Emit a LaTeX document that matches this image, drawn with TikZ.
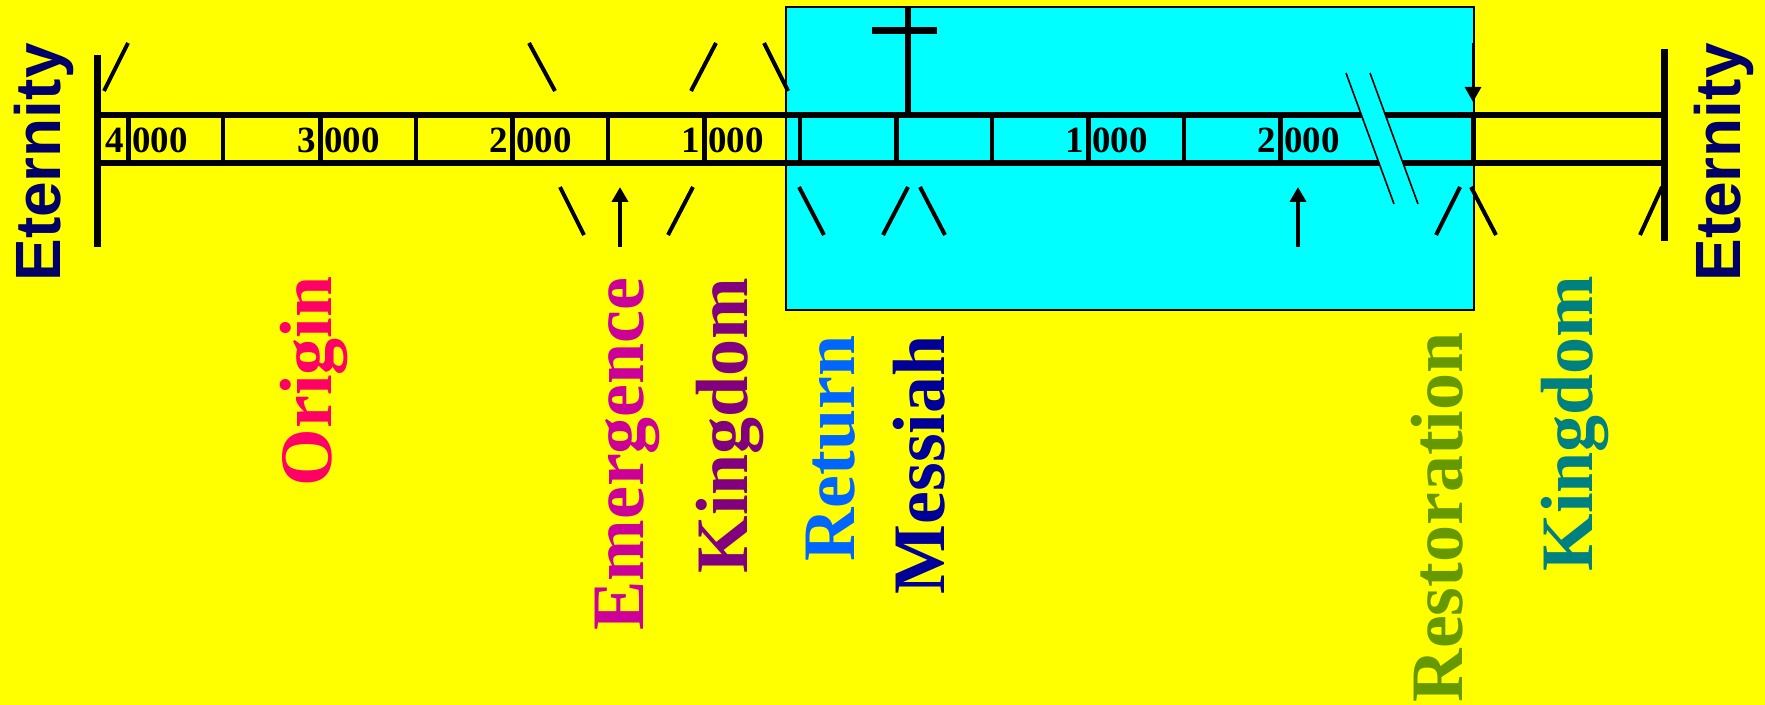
\documentclass[tikz,border=0pt]{standalone}
\usepackage{fontspec}
\setmainfont{Liberation Serif}
\newfontfamily\eternityfont{Liberation Sans}
\usetikzlibrary{arrows.meta}

\definecolor{bgyellow}{HTML}{FFFF00}
\definecolor{boxcyan}{HTML}{00FFFF}
\definecolor{eternityblue}{HTML}{000066}
\definecolor{origincol}{HTML}{FF0066}
\definecolor{emergecol}{HTML}{CC0099}
\definecolor{kingdomcol}{HTML}{800080}
\definecolor{returncol}{HTML}{0066FF}
\definecolor{messiahcol}{HTML}{000099}
\definecolor{restorecol}{HTML}{669900}
\definecolor{kingdomtwocol}{HTML}{008080}

\tikzset{
  era/.style={rotate=90,anchor=base east,inner sep=0pt,
    font=\fontsize{37}{37}\selectfont\bfseries},
  eternity/.style={rotate=90,anchor=base east,inner sep=0pt,text=eternityblue,
    font=\fontsize{32}{32}\selectfont\eternityfont\bfseries},
  year/.style={inner sep=0pt,font=\fontsize{18.5}{18.5}\selectfont\bfseries},
  tick/.style={line width=2pt},
}

\begin{document}
\begin{tikzpicture}[x=0.5pt,y=-0.5pt,>={Stealth[inset=0pt,length=7.5pt,width=8pt]}]
  \fill[bgyellow] (0,0) rectangle (1765,705);
  \useasboundingbox (0,0) rectangle (1765,705);
  % cyan period box
  \draw[fill=boxcyan,line width=0.8pt] (786,7) rectangle (1474,310);
  % rails and end bars
  \draw[line width=3pt] (97,115) -- (1664,115) (97,163) -- (1664,163);
  \draw[line width=3.5pt] (97,55) -- (97,247) (1664,49) -- (1664,241);
  % cell dividers, thin and thick
  \foreach \xd in {223,416,608,800,992,1184}
    \draw[line width=2pt] (\xd,115) -- (\xd,163);
  \foreach \xd in {128,320,512,704,896,1088,1280,1473}
    \draw[line width=2.5pt] (\xd,115) -- (\xd,163);
  % year numbers on both sides of a divider
  \foreach \xd/\lb in {128/4,320/3,512/2,704/1,1088/1,1280/2} {
    \node[year,anchor=base east] (hi\xd) at (\xd-4,153) {\lb};
    \node[year,anchor=base west] (lo\xd) at (\xd+4,153) {000};
  }
  % break in the line
  \fill[boxcyan] (1346,73) -- (1370,73) -- (1418,204) -- (1394,204) -- cycle;
  \draw[line width=0.8pt] (1346,73) -- (1394,204) (1370,73) -- (1418,204);
  % cross
  \draw[line width=3pt] (908,7) -- (908,115);
  \draw[line width=3.5pt] (872,31) -- (937,31);
  % slashes above and below
  \foreach \xa/\xb in {128/104,529/555,716/691,764/788}
    \draw[tick] (\xa,43) -- (\xb,91);
  \foreach \xa/\xb in {560/584,693/668,799/824,908/883,920/945,1460/1436,1471/1496,1662/1640}
    \draw[tick] (\xa,187) -- (\xb,235);
  % arrows
  \coordinate (upA) at (620,187);
  \coordinate (upB) at (1298,187);
  \coordinate (downC) at (1473,102);
  \draw[->,line width=2pt] (620,247) -- (upA);
  \draw[->,line width=2pt] (1298,247) -- (upB);
  \draw[->,line width=1.5pt] (1473,43) -- (downC);
  % labels
  \node[eternity] (eternityL) at (60,43) {Eternity};
  \node[eternity] (eternityR) at (1740,43) {Eternity};
  \node[era,text=origincol] (origin) at (331,276) {Origin};
  \node[era,text=emergecol] (emergence) at (643,277) {Emergence};
  \node[era,text=kingdomcol] (kingdom) at (747,277) {Kingdom};
  \node[era,text=returncol] (return) at (854,335) {Return};
  \node[era,text=messiahcol] (messiah) at (944,335) {Messiah};
  \node[era,text=restorecol] (restoration) at (1462,332) {Restoration};
  \node[era,text=kingdomtwocol] (kingdomtwo) at (1592,275) {Kingdom};
\end{tikzpicture}
\end{document}
